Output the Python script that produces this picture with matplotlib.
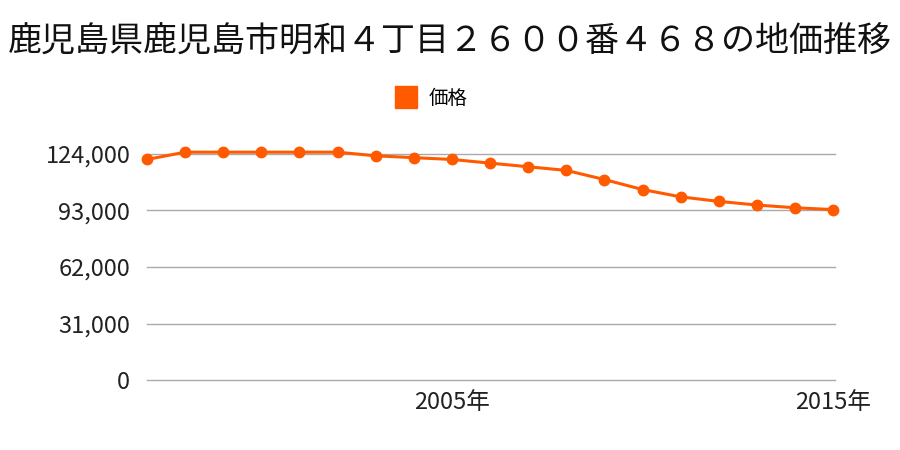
import matplotlib
matplotlib.use("Agg")
import matplotlib.pyplot as plt
from matplotlib.ticker import FuncFormatter

plt.rcParams['font.family'] = ['Noto Sans CJK JP', 'DejaVu Sans']

title = "鹿児島県鹿児島市明和４丁目２６００番４６８の地価推移"
series_name = "価格"
years = list(range(1997, 2016))
prices = [121000, 125000, 125000, 125000, 125000, 125000, 123000, 122000, 121000,
          119000, 117000, 115000, 110000, 104500, 100500, 98000, 96000, 94500, 93500]
yticks = [0, 31000, 62000, 93000, 124000]
xticks = [2005, 2015]
xticklabels = ["2005年", "2015年"]

color = "#FF5A00"

fig = plt.figure(figsize=(9, 4.5), dpi=100)
ax = fig.add_axes([147/900, 70/450, 688/900, 240/450])

for v in yticks:
    ax.axhline(v, color='#aaaaaa', lw=1, zorder=1, clip_on=False)
ax.plot(years, prices, color=color, lw=2.2, marker='o', markersize=7.5, zorder=3, clip_on=False)

ax.set_xlim(1997, 2015.05)
ax.set_ylim(0, 124000 * 240 / 226)
ax.set_yticks(yticks)
ax.yaxis.set_major_formatter(FuncFormatter(lambda v, p: f"{int(v):,}"))
ax.set_xticks(xticks)
ax.set_xticklabels(xticklabels)
for s in ax.spines.values():
    s.set_visible(False)
ax.tick_params(axis='both', length=0, labelsize=17, colors='#222222')
ax.tick_params(axis='y', pad=12)
ax.tick_params(axis='x', pad=8)

fig.suptitle(title, x=0.5, y=1 - 42/450, va='center', fontsize=24.5, color='#111111')

ax.plot([], [], color=color, marker='s', ls='none', markersize=16, label=series_name)
fig.legend(loc='center', bbox_to_anchor=(432/900, 1 - 98/450), frameon=False, fontsize=14,
           handletextpad=0.7, handlelength=1.0)

fig.savefig("out.png", dpi=100)
